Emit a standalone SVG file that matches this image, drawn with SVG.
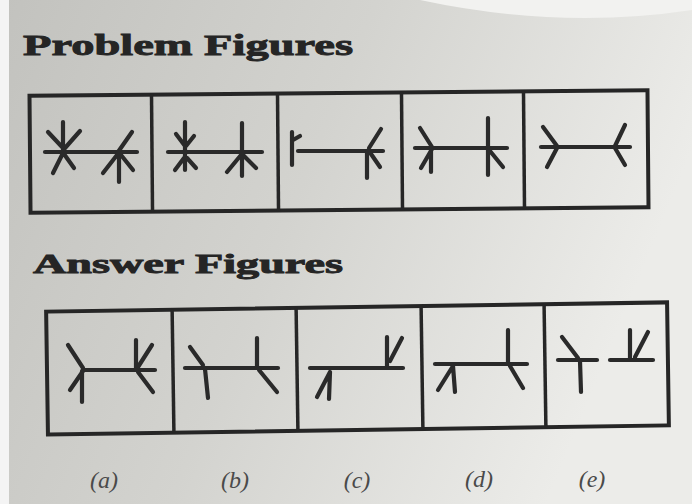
<svg xmlns="http://www.w3.org/2000/svg" width="692" height="504" viewBox="0 0 692 504">
<defs>
<linearGradient id="bg" x1="0" y1="0" x2="1" y2="0.3">
<stop offset="0" stop-color="#c2c2be"/>
<stop offset="0.5" stop-color="#d3d3cf"/>
<stop offset="1" stop-color="#ecece9"/>
</linearGradient>
<style>
.box{fill:none;stroke:#262626;stroke-width:4}
.div{stroke:#262626;stroke-width:3.5}
.fig{fill:none;stroke:#2a2a2a;stroke-width:4.2;stroke-linecap:round;stroke-linejoin:round}
.title{font-family:"Liberation Serif",serif;font-weight:bold;fill:#252525;stroke:#252525;stroke-width:0.9}
.lbl{font-family:"Liberation Serif",serif;font-style:italic;font-size:24px;fill:#4a4a4a;text-anchor:middle}
</style>
</defs>
<rect width="692" height="504" fill="url(#bg)"/>
<rect x="0" y="0" width="9" height="504" fill="#f4f4f4"/>
<path d="M420,0 Q560,30 692,10 L692,0 Z" fill="#f2f2f0"/>

<text class="title" x="23" y="55" font-size="30" textLength="330" lengthAdjust="spacingAndGlyphs">Problem Figures</text>
<text class="title" x="33" y="273" font-size="28" textLength="310" lengthAdjust="spacingAndGlyphs">Answer Figures</text>

<g id="problem-box" transform="rotate(-0.5 339 151)">
<rect class="box" x="30" y="93" width="618" height="117" fill="#d4d4d0"/>
<line class="div" x1="152" y1="93" x2="152" y2="210"/>
<line class="div" x1="278" y1="93" x2="278" y2="210"/>
<line class="div" x1="402" y1="93" x2="402" y2="210"/>
<line class="div" x1="524" y1="93" x2="524" y2="210"/>
</g>

<g id="p1" class="fig">
<path d="M45,152 H137"/>
<path d="M63,122 V152 M48,132 L63,148 M80,131 L65,148 M53,173 L63,153 M74,168 L64,154"/>
<path d="M119,152 V182 M103,173 L117,155 M133,170 L121,155 M132,132 L118,152"/>
</g>
<g id="p2" class="fig">
<path d="M168,152 H262"/>
<path d="M185,122 V170 M176,134 L185,146 M194,136 L186,146 M175,170 L184,158 M196,168 L187,158"/>
<path d="M242,123 V176 M227,172 L241,155 M256,168 L243,155"/>
</g>
<g id="p3" class="fig">
<path d="M298,151 H383"/>
<path d="M292,132 V165 M300,136 L293,140"/>
<path d="M381,129 L369,148 M369,151 L380,167 M367,151 V178"/>
</g>
<g id="p4" class="fig">
<path d="M415,148 H507"/>
<path d="M420,128 L432,147 M432,149 L421,168 M431,149 V172"/>
<path d="M488,118 V175 M490,151 L503,167"/>
</g>
<g id="p5" class="fig">
<path d="M541,147 H630"/>
<path d="M543,127 L557,146 M557,148 L547,167"/>
<path d="M625,125 L615,146 M615,148 L625,165"/>
</g>

<g id="answer-box" transform="rotate(-0.85 357 368)">
<rect class="box" x="47" y="307" width="621" height="123" fill="#dcdcd8"/>
<line class="div" x1="173" y1="307" x2="173" y2="430"/>
<line class="div" x1="297" y1="307" x2="297" y2="430"/>
<line class="div" x1="422" y1="307" x2="422" y2="430"/>
<line class="div" x1="545" y1="307" x2="545" y2="430"/>
</g>

<g id="a" class="fig">
<path d="M83,370 H155"/>
<path d="M68,345 L83,368 M83,371 L70,390 M82,371 V402"/>
<path d="M136,340 V370 M152,345 L138,367 M138,372 L153,392"/>
</g>
<g id="b" class="fig">
<path d="M185,368 H278"/>
<path d="M190,347 L203,365 M205,369 L208,398"/>
<path d="M257,338 V368 M259,370 L277,392"/>
</g>
<g id="c" class="fig">
<path d="M310,368 H403"/>
<path d="M330,372 L317,397 M330,372 L329,399"/>
<path d="M387,337 V366 M402,338 L390,361"/>
</g>
<g id="d" class="fig">
<path d="M435,364 H527"/>
<path d="M453,366 L438,390 M453,366 L455,392"/>
<path d="M508,330 V363 M510,366 L523,388"/>
</g>
<g id="e" class="fig">
<path d="M558,360 H597"/>
<path d="M562,337 L578,358 M580,361 L581,392"/>
<path d="M610,360 H653"/>
<path d="M630,330 V358 M648,332 L635,357"/>
</g>

<g id="labels">
<text class="lbl" x="104" y="488">(a)</text>
<text class="lbl" x="235" y="488">(b)</text>
<text class="lbl" x="357" y="488">(c)</text>
<text class="lbl" x="479" y="487">(d)</text>
<text class="lbl" x="592" y="487">(e)</text>
</g>
</svg>
